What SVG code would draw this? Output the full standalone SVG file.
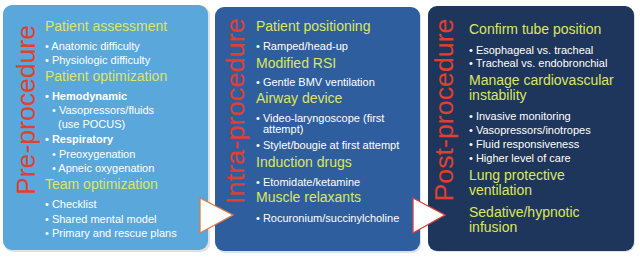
<svg xmlns="http://www.w3.org/2000/svg" width="640" height="260" viewBox="0 0 640 260">
<style>
text{font-family:"Liberation Sans",Arial,sans-serif}
.h{font-size:14px;fill:#dde65c}
.b{font-size:11px;fill:#ffffff}
.bb{font-size:11px;fill:#ffffff;font-weight:bold}
.v{font-size:25px;fill:#e2402f}
.arrow{fill:#ffffff;stroke-width:1.3;stroke-linejoin:miter}
</style>
<rect width="640" height="260" fill="#ffffff"/>
<g id="pre">
<rect x="4" y="6" width="206" height="246" rx="9" fill="#c9cdd2" opacity="0.6"/>
<rect x="3" y="5" width="205" height="245" rx="9" fill="#5aa7db"/>
<text class="v" transform="translate(35,110) rotate(-90)" text-anchor="middle" textLength="170" lengthAdjust="spacingAndGlyphs">Pre-procedure</text>
<text class="h" x="45" y="31">Patient assessment</text>
<text class="b" x="45" y="50">• Anatomic difficulty</text>
<text class="b" x="45" y="64">• Physiologic difficulty</text>
<text class="h" x="45" y="81">Patient optimization</text>
<text class="bb" x="45" y="100">• Hemodynamic</text>
<text class="b" x="52" y="114">• Vasopressors/fluids</text>
<text class="b" x="58" y="128">(use POCUS)</text>
<text class="bb" x="45" y="143">• Respiratory</text>
<text class="b" x="52" y="158">• Preoxygenation</text>
<text class="b" x="52" y="172">• Apneic oxygenation</text>
<text class="h" x="45" y="189">Team optimization</text>
<text class="b" x="45" y="208">• Checklist</text>
<text class="b" x="45" y="223">• Shared mental model</text>
<text class="b" x="45" y="237">• Primary and rescue plans</text>
</g>
<g id="intra">
<rect x="216" y="8" width="205" height="245" rx="9" fill="#c9cdd2" opacity="0.6"/>
<rect x="215" y="7" width="205" height="244" rx="9" fill="#2f5e9e"/>
<text class="v" transform="translate(244,111) rotate(-90)" text-anchor="middle" textLength="186" lengthAdjust="spacingAndGlyphs">Intra-procedure</text>
<text class="h" x="256" y="31">Patient positioning</text>
<text class="b" x="256" y="50">• Ramped/head-up</text>
<text class="h" x="256" y="68">Modified RSI</text>
<text class="b" x="256" y="86">• Gentle BMV ventilation</text>
<text class="h" x="256" y="103">Airway device</text>
<text class="b" x="256" y="122">• Video-laryngoscope (first</text>
<text class="b" x="263" y="133">attempt)</text>
<text class="b" x="256" y="149">• Stylet/bougie at first attempt</text>
<text class="h" x="256" y="167">Induction drugs</text>
<text class="b" x="256" y="186">• Etomidate/ketamine</text>
<text class="h" x="256" y="202">Muscle relaxants</text>
<text class="b" x="256" y="222">• Rocuronium/succinylcholine</text>
</g>
<g id="post">
<rect x="429" y="7" width="206" height="245" rx="9" fill="#c9cdd2" opacity="0.6"/>
<rect x="428" y="6" width="206" height="245" rx="9" fill="#1e365b"/>
<text class="v" transform="translate(453,110) rotate(-90)" text-anchor="middle" textLength="183" lengthAdjust="spacingAndGlyphs">Post-procedure</text>
<text class="h" x="469" y="34">Confirm tube position</text>
<text class="b" x="469" y="54">• Esophageal vs. tracheal</text>
<text class="b" x="469" y="67">• Tracheal vs. endobronchial</text>
<text class="h" x="469" y="85">Manage cardiovascular</text>
<text class="h" x="469" y="100">instability</text>
<text class="b" x="469" y="120">• Invasive monitoring</text>
<text class="b" x="469" y="134">• Vasopressors/inotropes</text>
<text class="b" x="469" y="148">• Fluid responsiveness</text>
<text class="b" x="469" y="162">• Higher level of care</text>
<text class="h" x="469" y="180">Lung protective</text>
<text class="h" x="469" y="195">ventilation</text>
<text class="h" x="469" y="217">Sedative/hypnotic</text>
<text class="h" x="469" y="232">infusion</text>
</g>
<g id="connectors">
<polygon class="arrow" points="200,198 233,215 200,233" stroke="#e07a3c"/>
<polygon class="arrow" points="413,198 445,215 413,233" stroke="#d9403a"/>
</g>
</svg>
